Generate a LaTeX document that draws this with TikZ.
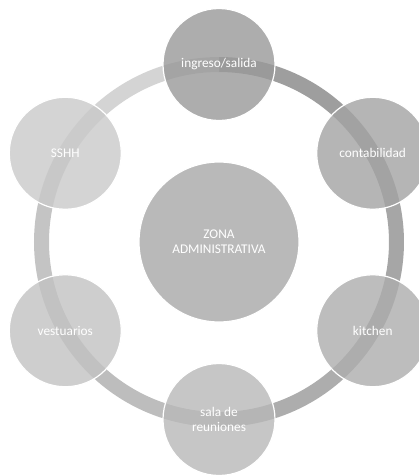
\documentclass[tikz,border=0pt]{standalone}
\usepackage{fontspec}
\setmainfont{Carlito}
\usetikzlibrary{backgrounds}

\begin{document}
\begin{tikzpicture}
    [ x = 1pt, y = 1pt
    , room/.style =
      { circle, draw = white, line width = 1.2pt, minimum size = 112pt,
        inner sep = 0pt, fill opacity = .8, text opacity = 1,
        text = white, align = center,
        font = \fontsize{13.3}{15}\selectfont }
    , hub/.style =
      { room, minimum size = 160pt }
    , ring/.style =
      { line width = 15pt }
    ]
    \useasboundingbox (-219,-233) rectangle (200,242);

    \node [hub, fill=black!34] (zona) at (0,0) {ZONA\\ADMINISTRATIVA};
    \node [room, fill=black!40] (ingreso) at (90:177.5) {ingreso/salida};
    \node [room, fill=black!36] (conta) at (30:177.5) {contabilidad};
    \node [room, fill=black!32] (kitchen) at (-30:177.5) {kitchen};
    \node [room, fill=black!28] (sala) at (-90:177.5) {sala de\\reuniones};
    \node [room, fill=black!24] (vest) at (-150:177.5) {vestuarios};
    \node [room, fill=black!21] (sshh) at (150:177.5) {SSHH};

    \begin{scope}[on background layer]
      \draw [ring, draw=black!38] (ingreso.center) arc [start angle=90, end angle=30, radius=177.5];
      \draw [ring, draw=black!35] (conta.center) arc [start angle=30, end angle=-30, radius=177.5];
      \draw [ring, draw=black!32] (kitchen.center) arc [start angle=-30, end angle=-90, radius=177.5];
      \draw [ring, draw=black!26] (sala.center) arc [start angle=-90, end angle=-150, radius=177.5];
      \draw [ring, draw=black!23] (vest.center) arc [start angle=-150, end angle=-210, radius=177.5];
      \draw [ring, draw=black!17] (sshh.center) arc [start angle=150, end angle=90, radius=177.5];
    \end{scope}
\end{tikzpicture}
\end{document}
